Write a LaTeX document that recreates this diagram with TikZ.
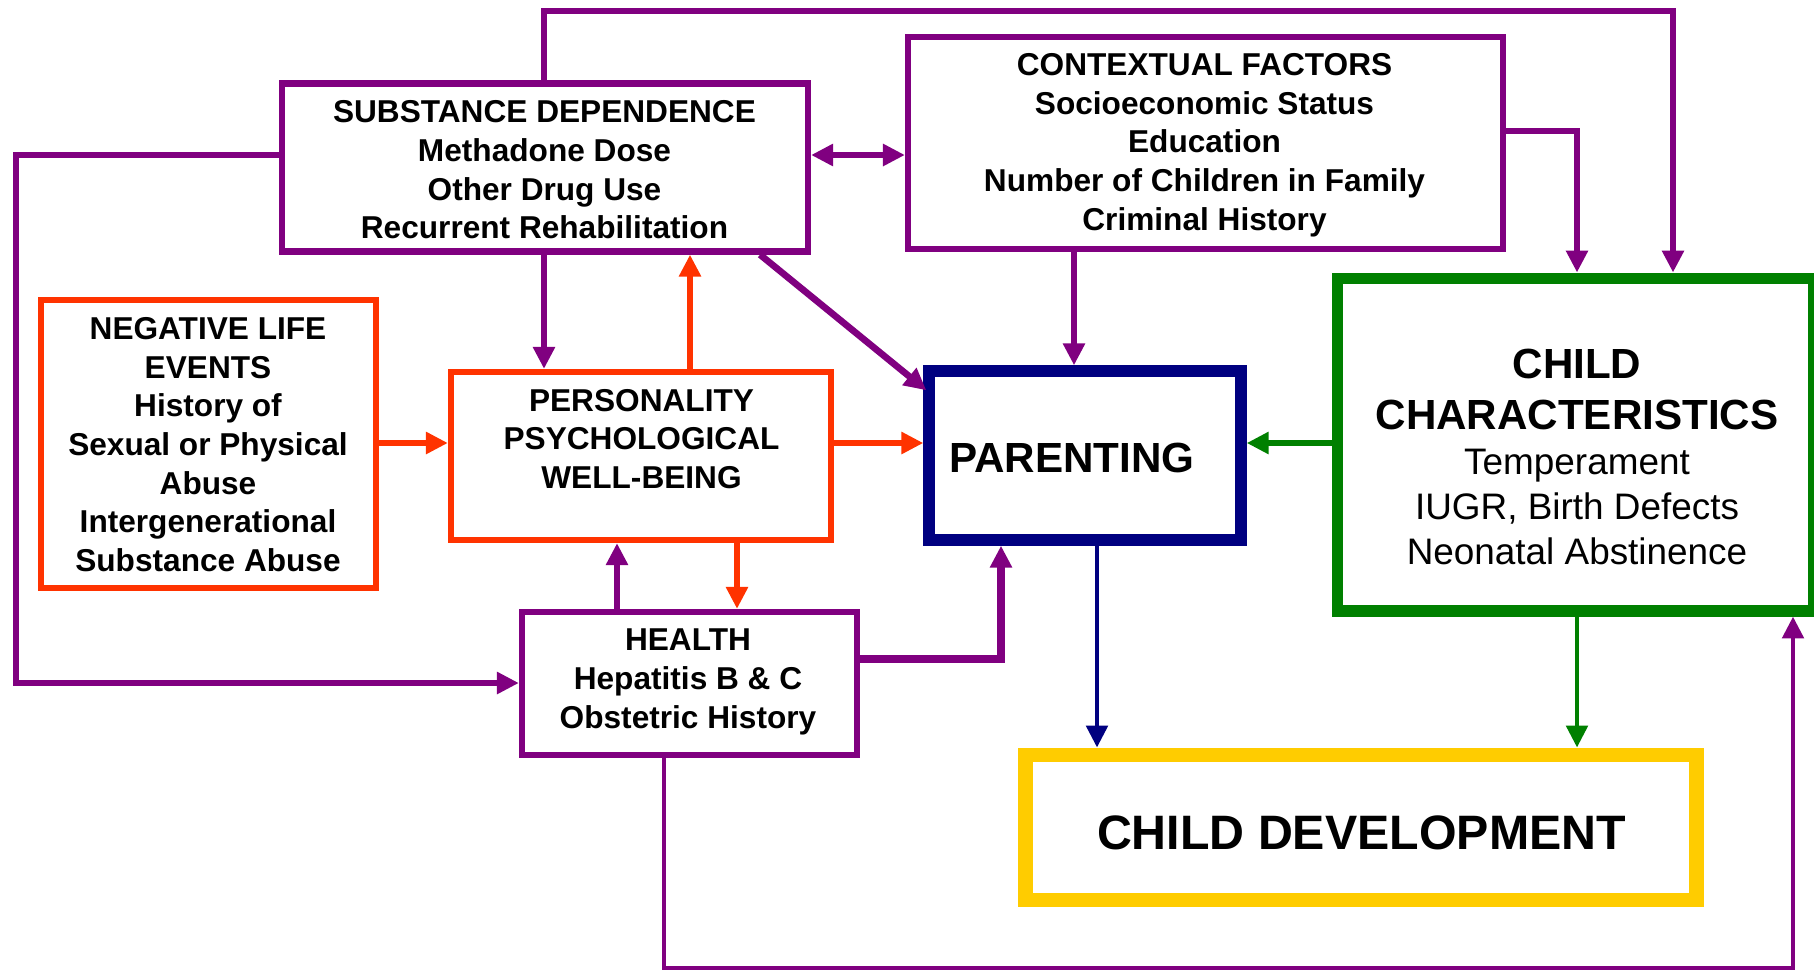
\documentclass[tikz,border=0pt]{standalone}
\usepackage{fontspec}
\setmainfont{Liberation Sans}
\usetikzlibrary{arrows.meta,calc}
\definecolor{pur}{HTML}{800080}
\definecolor{org}{HTML}{FF3300}
\definecolor{nav}{HTML}{000080}
\definecolor{grn}{HTML}{008000}
\definecolor{yel}{HTML}{FFCC00}
\begin{document}
\begin{tikzpicture}[x=0.02cm,y=-0.02cm,
  box/.style={draw,inner sep=0pt,fill=white},
  lbl/.style={align=center,inner sep=0pt,font=\bfseries\fontsize{18}{22}\selectfont},
  ccH/.style={inner sep=0pt,font=\bfseries\fontsize{24}{29}\selectfont},
  ccB/.style={inner sep=0pt,font=\fontsize{21}{25}\selectfont},
  tip/.style={-{Triangle[length=12.5pt,width=12pt]}},
  pconn/.style={tip,draw=pur,line width=3.8pt},
  pthin/.style={tip,draw=pur,line width=2.8pt},
  oconn/.style={tip,draw=org,line width=3.8pt},
  gconn/.style={tip,draw=grn,line width=3.8pt},
  gthin/.style={tip,draw=grn,line width=2.8pt},
  nthin/.style={tip,draw=nav,line width=2.8pt}]
\useasboundingbox (0,0) rectangle (1814,971);
\fill[white] (0,0) rectangle (1814,971);

% boxes
\node[box,draw=pur,line width=3.6pt,minimum width=10.52cm,minimum height=3.36cm] (sd) at (545,167.5) {};
\node[box,draw=pur,line width=3.6pt,minimum width=11.9cm,minimum height=4.24cm] (cf) at (1205.5,143) {};
\node[box,draw=org,line width=3.6pt,minimum width=6.7cm,minimum height=5.76cm] (nle) at (208.5,444) {};
\node[box,draw=org,line width=3.6pt,minimum width=7.6cm,minimum height=3.36cm] (pers) at (641,456) {};
\node[box,draw=pur,line width=3.6pt,minimum width=6.7cm,minimum height=2.86cm] (health) at (689.5,683.5) {};
\node[box,draw=nav,line width=6.5pt,minimum width=6.24cm,minimum height=3.38cm] (par) at (1085,455.5) {};
\node[box,draw=grn,line width=6.3pt,minimum width=9.54cm,minimum height=6.66cm] (cc) at (1575.5,444.5) {};
\node[box,draw=yel,line width=8.5pt,minimum width=13.44cm,minimum height=2.9cm] (cd) at (1361,827.5) {};

% texts
\node[lbl] (sdT) at (544.5,170) {SUBSTANCE DEPENDENCE\\Methadone Dose\\Other Drug Use\\Recurrent Rehabilitation};
\node[lbl] (cfT) at (1204.5,145) {CONTEXTUAL FACTORS\\Socioeconomic Status\\Education\\Number of Children in Family\\Criminal History};
\node[lbl] (nleT) at (208,444.5) {NEGATIVE LIFE\\EVENTS\\History of\\Sexual or Physical\\Abuse\\Intergenerational\\Substance Abuse};
\node[lbl] (persT) at (641.5,439) {PERSONALITY\\PSYCHOLOGICAL\\WELL-BEING};
\node[lbl] (healthT) at (688,682) {HEALTH\\Hepatitis B \& C\\Obstetric History};
\node[inner sep=0pt,font=\bfseries\fontsize{24}{29}\selectfont] (parT) at (1072,458) {PARENTING};
\node[inner sep=0pt,font=\bfseries\fontsize{27.5}{33}\selectfont] (cdT) at (1361.5,833) {CHILD DEVELOPMENT};
\node[ccH,anchor=base] (cc1) at (1577,378) {CHILD};
\node[ccH,anchor=base] (cc2) at (1577,429) {CHARACTERISTICS};
\node[ccB,anchor=base] (cc3) at (1577,474) {Temperament};
\node[ccB,anchor=base] (cc4) at (1577,519) {IUGR, Birth Defects};
\node[ccB,anchor=base] (cc5) at (1577,564) {Neonatal Abstinence};

% connectors
\coordinate (tl) at (544,11);
\coordinate (tr) at (1673,11);
\draw[pconn] (sd.north -| tl) -- (tl) -- (tr) -- (cc.north -| tr);

\coordinate (lt) at (16,155);
\coordinate (lb) at (16,683);
\draw[pconn] (sd.west |- lt) -- (lt) -- (lb) -- (health.west |- lb);

\draw[pconn,{Triangle[length=12.5pt,width=12pt]}-{Triangle[length=12.5pt,width=12pt]}] (sd.east |- lt) -- (cf.west |- lt);

\coordinate (cr) at (1577,131);
\draw[pconn] (cf.east |- cr) -- (cr) -- (cc.north -| cr);

\coordinate (xc) at (1074,0);
\draw[pconn] (cf.south -| xc) -- (par.north -| xc);

\coordinate (xd) at (760,0);
\draw[pconn] (sd.south -| xd) -- ($(par.north west)+(3,25)$);

\coordinate (xa) at (544,0);
\draw[pconn] (sd.south -| xa) -- (pers.north -| xa);
\coordinate (xb) at (690,0);
\draw[oconn] (pers.north -| xb) -- (sd.south -| xb);

\coordinate (ym) at (0,443);
\draw[oconn] (nle.east |- ym) -- (pers.west |- ym);
\draw[oconn] (pers.east |- ym) -- (par.west |- ym);
\draw[gconn] (cc.west |- ym) -- (par.east |- ym);

\coordinate (xe) at (737,0);
\draw[oconn] (pers.south -| xe) -- (health.north -| xe);
\coordinate (xf) at (617,0);
\draw[pconn] (health.north -| xf) -- (pers.south -| xf);

\coordinate (hp) at (1001,659);
\draw[pconn,line width=4.4pt] (health.east |- hp) -- (hp) -- (par.south -| hp);

\coordinate (xg) at (1097,0);
\draw[nthin] (par.south -| xg) -- (cd.north -| xg);
\coordinate (xh) at (1577,0);
\draw[gthin] (cc.south -| xh) -- (cd.north -| xh);

\coordinate (bl) at (664,968);
\coordinate (br) at (1793,968);
\draw[pthin] (health.south -| bl) -- (bl) -- (br) -- (cc.south -| br);
\end{tikzpicture}
\end{document}
